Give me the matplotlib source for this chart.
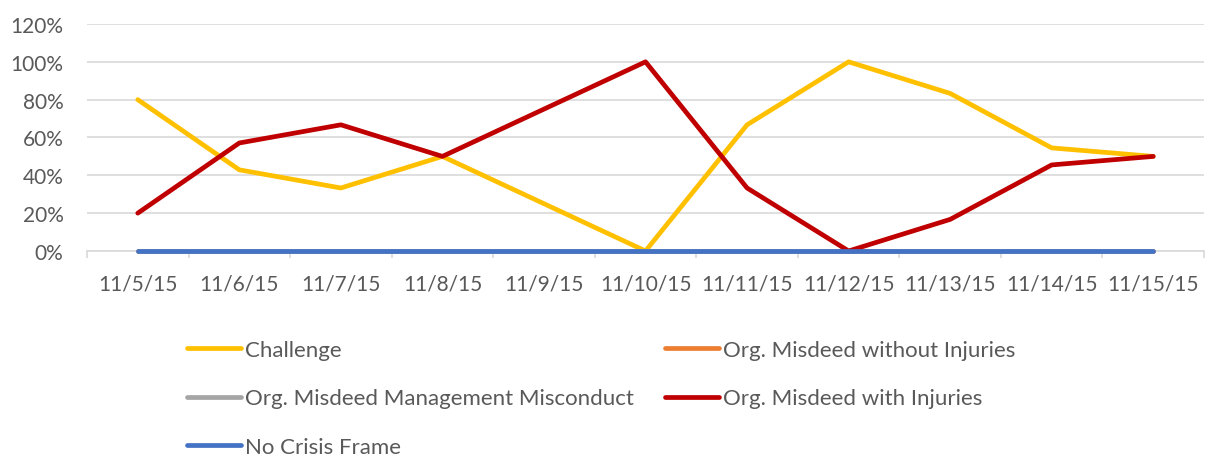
import matplotlib
matplotlib.use('Agg')
import matplotlib.pyplot as plt
import numpy as np
from matplotlib.ticker import FixedLocator, PercentFormatter

plt.rcParams['font.family'] = ['Lato', 'DejaVu Sans']

dates = ['11/5/15', '11/6/15', '11/7/15', '11/8/15', '11/9/15', '11/10/15',
         '11/11/15', '11/12/15', '11/13/15', '11/14/15', '11/15/15']

challenge = [80, 42.9, 33.3, 50, 25, 0, 66.7, 100, 83.3, 54.5, 50]
misdeed_no_inj = [0, 0, 0, 0, 0, 0, 0, 0, 0, 0, 0]
misdeed_mgmt = [0, 0, 0, 0, 0, 0, 0, 0, 0, 0, 0]
misdeed_inj = [20, 57.1, 66.7, 50, 75, 100, 33.3, 0, 16.7, 45.5, 50]
no_crisis = [0, 0, 0, 0, 0, 0, 0, 0, 0, 0, 0]

text_col = '#595959'
grid_col = '#D9D9D9'

fig = plt.figure(figsize=(12.05, 4.56), dpi=100)
ax = fig.add_axes([0.0722, 0.4474, 0.927, 0.4978])

x = np.arange(len(dates))
lw = 3.4
kw = dict(linewidth=lw, solid_capstyle='round', solid_joinstyle='round',
          clip_on=False, zorder=3)
l1, = ax.plot(x, challenge, color='#FFC000', label='Challenge', **kw)
l2, = ax.plot(x, misdeed_no_inj, color='#ED7D31', label='Org. Misdeed without Injuries', **kw)
l3, = ax.plot(x, misdeed_mgmt, color='#A5A5A5', label='Org. Misdeed Management Misconduct', **kw)
l4, = ax.plot(x, misdeed_inj, color='#C00000', label='Org. Misdeed with Injuries', **kw)
l5, = ax.plot(x, no_crisis, color='#4472C4', label='No Crisis Frame', **kw)

ax.set_xlim(-0.5, len(dates) - 0.5)
ax.set_ylim(0, 120)
ax.set_yticks(range(0, 121, 20))
ax.yaxis.set_major_formatter(PercentFormatter(decimals=0))
ax.grid(axis='y', color=grid_col, linewidth=1.2)
ax.set_axisbelow(True)

ax.set_xticks(x)
ax.set_xticklabels(dates)
ax.xaxis.set_minor_locator(FixedLocator(np.arange(-0.5, len(dates), 1.0)))
ax.tick_params(axis='x', which='major', length=0, pad=16, labelsize=15, labelcolor=text_col)
ax.tick_params(axis='x', which='minor', length=5, width=1.2, color=grid_col)
ax.tick_params(axis='y', length=0, pad=17, labelsize=15, labelcolor=text_col)

for s in ['top', 'right', 'left']:
    ax.spines[s].set_visible(False)
ax.spines['bottom'].set_color(grid_col)
ax.spines['bottom'].set_linewidth(1.2)
ax.spines['bottom'].set_zorder(1)

leg_kw = dict(frameon=False, fontsize=16, handlelength=2.45, handletextpad=0.14,
              labelspacing=1.28, labelcolor=text_col, borderaxespad=0, borderpad=0)
leg1 = fig.legend(handles=[l1, l3, l5], loc='upper left',
                  bbox_to_anchor=(187 / 1205, 1 - 341 / 456), **leg_kw)
leg2 = fig.legend(handles=[l2, l4], loc='upper left',
                  bbox_to_anchor=(665 / 1205, 1 - 341 / 456), **leg_kw)

fig.savefig('out.png', dpi=100)
